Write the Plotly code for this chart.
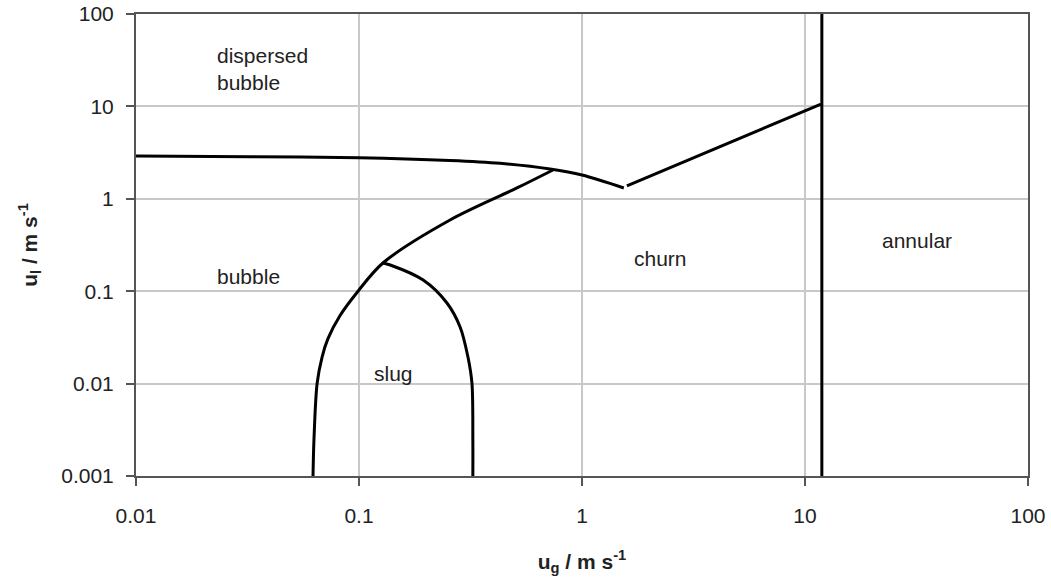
import plotly.graph_objects as go

# Flow-regime boundaries for vertical gas-liquid flow (superficial velocities, m/s)
dispersed_ug = [0.01, 0.0325, 0.1, 0.256, 0.429, 0.719, 1.0, 1.54]
dispersed_ul = [2.91, 2.86, 2.79, 2.60, 2.42, 2.10, 1.81, 1.31]

churn_ug = [1.59, 11.8]
churn_ul = [1.38, 10.6]

annular_ug = [11.9, 11.9]
annular_ul = [0.001, 100]

bubble_ug = [0.0622, 0.0628, 0.0649, 0.0683, 0.0725, 0.082, 0.099, 0.128, 0.256, 0.511, 0.741]
bubble_ul = [0.001, 0.00245, 0.0101, 0.0194, 0.0305, 0.054, 0.1, 0.202, 0.59, 1.31, 2.05]

slug_ug = [0.128, 0.138, 0.194, 0.248, 0.284, 0.308, 0.321, 0.324, 0.324]
slug_ul = [0.202, 0.192, 0.132, 0.0745, 0.041, 0.0194, 0.0101, 0.00245, 0.001]

# Regime labels: (text, log10 ug, log10 ul)
region_text = ["dispersed<br>bubble", "bubble", "slug", "churn", "annular"]
region_logx = [-1.646, -1.646, -0.942, 0.224, 1.336]
region_logy = [1.405, -0.836, -1.896, -0.641, -0.446]

x_ticks = [0.01, 0.1, 1, 10, 100]
x_tick_text = ["0.01", "0.1", "1", "10", "100"]
y_ticks = [0.001, 0.01, 0.1, 1, 10, 100]
y_tick_text = ["0.001", "0.01", "0.1", "1", "10", "100"]

FONT = "Liberation Sans, Arial"
line_style = dict(color="black", width=3)

fig = go.Figure()
for xs, ys in [(dispersed_ug, dispersed_ul), (churn_ug, churn_ul),
               (annular_ug, annular_ul), (bubble_ug, bubble_ul),
               (slug_ug, slug_ul)]:
    fig.add_trace(go.Scatter(x=xs, y=ys, mode="lines",
                             line=dict(line_style, shape="spline", smoothing=0.9),
                             showlegend=False, hoverinfo="skip"))

for t, lx, ly in zip(region_text, region_logx, region_logy):
    fig.add_annotation(x=lx, y=ly, xref="x", yref="y", text=t, showarrow=False,
                       xanchor="left", yanchor="middle", align="left",
                       font=dict(family=FONT, size=21, color="#222"))

axis_common = dict(
    type="log", automargin=False,
    showgrid=True, gridcolor="#c8c8c8", gridwidth=1.5,
    showline=True, linecolor="#555", linewidth=2, mirror=True,
    ticks="outside", ticklen=8, tickcolor="#555", tickwidth=1.5,
    tickfont=dict(family=FONT, size=21, color="#222"),
    zeroline=False,
)

fig.update_xaxes(axis_common, range=[-2, 2], tickvals=x_ticks, ticktext=x_tick_text,
                 ticklabelstandoff=12,
                 title=dict(text="<b>u<sub>g</sub> / m s<sup>-1</sup></b>",
                            font=dict(family=FONT, size=21, color="#222"),
                            standoff=28))
fig.update_yaxes(axis_common, range=[-3, 2], tickvals=y_ticks, ticktext=y_tick_text,
                 ticklabelstandoff=8,
                 title=dict(text="<b>u<sub>l</sub> / m s<sup>-1</sup></b>",
                            font=dict(family=FONT, size=21, color="#222"),
                            standoff=18))

fig.update_layout(
    width=1051, height=581,
    margin=dict(l=136, r=23, t=14, b=105),
    paper_bgcolor="white", plot_bgcolor="white",
)

fig.write_html("out.html")
